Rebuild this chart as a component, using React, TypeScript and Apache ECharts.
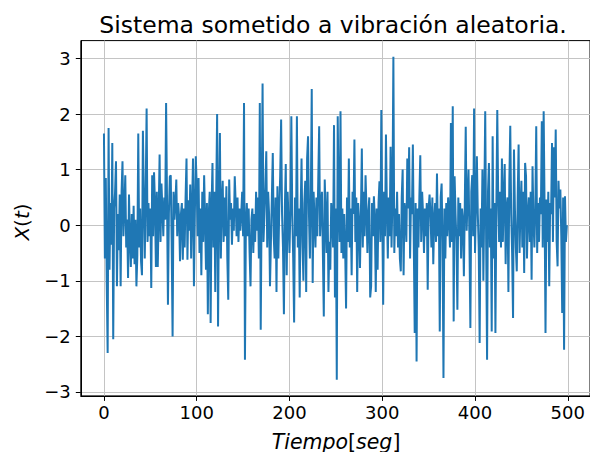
import React, { useEffect, useRef } from "react";
import * as echarts from "echarts";

// Time step of the signal (seconds), samples start at t = 0
const timeStep = 1;

// Response X(t), ten samples per row
const response: number[] = [
  1.65, -0.60, 0.85, -1.05, -2.30, 1.75, -0.80, 0.40, -0.35, 1.48,
  -2.05, 0.30, 0.60, 1.15, -1.10, 0.20, -0.45, 0.55, -1.10, 0.60,
  1.15, -0.20, 0.30, 0.90, -0.40, 0.10, -0.95, 0.55, -0.25, -0.75,
  0.20, -0.60, 0.35, -0.70, 0.10, -1.10, -0.55, 1.65, -0.40, 0.30,
  -0.65, -0.90, 1.70, 0.50, -0.60, 0.60, 2.10, -0.30, 0.40, -0.20,
  0.30, -1.13, 0.90, -0.20, 0.95, 0.40, -0.75, 0.60, -0.75, 0.20,
  1.27, -0.30, 0.75, 0.30, -0.20, 0.50, 0.10, 2.20, 0.45, -1.43,
  0.20, 0.87, 0.90, -0.30, -2.00, 0.60, 0.10, 0.40, 0.82, -0.20,
  0.40, 0.15, -0.65, 0.20, 0.40, -0.62, 0.30, -0.40, 0.50, 1.20,
  -0.62, 0.45, -0.10, 0.73, -0.60, 0.30, 1.20, -1.10, 0.20, 1.24,
  0.70, -0.20, 0.85, -0.50, 0.30, -0.90, 0.60, -0.30, 0.90, 0.10,
  -0.80, 0.40, -1.60, 0.20, 0.60, -1.76, 0.30, 1.12, -0.40, 0.60,
  -1.20, 0.50, 2.00, -1.82, 0.40, 1.66, -0.60, 0.40, 0.80, -0.30,
  0.50, -0.20, 0.70, -0.60, -1.34, 0.82, 0.10, 0.40, -0.35, 0.30,
  -0.10, 0.88, 0.40, -0.20, 0.50, -0.30, 0.30, -0.10, 0.20, 0.60,
  -0.20, 2.20, -2.42, 0.00, 0.40, -0.20, 0.30, -0.50, -1.10, 0.10,
  0.30, -0.50, 0.20, -0.30, 0.60, -0.10, 0.50, -0.60, 2.20, -1.88,
  0.40, 2.55, -0.30, 0.20, 0.70, 1.33, -0.40, 0.60, 0.20, -1.10,
  -0.30, 0.50, 1.30, -0.20, -0.60, 0.50, -1.20, 0.70, -0.60, 0.30,
  0.90, 1.90, 0.20, -0.40, -1.60, 0.30, 1.10, -0.90, 0.60, 0.10,
  -0.50, 0.30, 1.96, 0.20, -0.60, -1.75, 0.50, -0.20, 1.96, -0.40,
  0.30, -1.30, 0.20, 1.20, -0.30, -1.00, 0.40, 0.80, -1.20, 1.20,
  1.60, 0.20, -0.60, 0.50, 2.45, -1.04, 0.60, 0.10, -0.40, 0.50,
  -0.20, 0.80, 1.78, -0.20, 0.30, 0.60, -0.50, -1.64, 0.82, 0.20,
  -0.50, 0.60, -1.20, -0.30, -0.80, 0.40, 0.10, -0.40, 1.80, -1.30,
  0.30, -2.78, 1.96, 0.40, -0.30, 2.05, -0.50, 0.30, -0.60, 0.20,
  -0.40, -1.50, 0.50, -0.30, 1.20, -0.40, 0.30, -0.90, 0.60, 0.20,
  1.54, -0.30, 0.50, -1.20, 0.40, 0.10, -0.77, 0.20, 1.38, -0.40,
  0.60, -0.20, 0.90, 0.30, -0.50, 0.20, 0.50, -1.30, -1.10, 0.40,
  -0.20, 0.52, 0.10, -1.20, 0.30, -0.80, 0.40, 0.79, -0.30, 2.07,
  0.20, -1.43, 0.60, -0.20, 1.63, 0.30, -0.60, 0.50, -0.20, 1.41,
  -0.40, 0.50, 3.03, -0.50, 0.30, -0.20, 0.60, -0.40, 0.20, -0.60,
  -0.83, 0.50, 1.00, -0.90, 0.40, 0.20, -0.30, 1.20, 0.30, 1.40,
  -0.60, 0.50, 0.20, 1.45, -0.30, -1.94, 0.40, -2.45, 0.30, -0.40,
  0.50, 1.26, -0.30, 0.60, 0.20, -0.50, 0.30, -0.20, 0.40, -1.16,
  0.30, 0.55, 0.20, -0.40, 0.50, -0.70, 0.10, 0.40, -0.30, 0.93,
  -0.20, 0.30, -1.91, 0.50, 0.75, -0.30, -2.75, 0.30, -0.60, 0.40,
  -0.20, 0.50, 0.10, -0.40, 1.84, -0.30, 2.14, -1.73, 0.88, 0.20,
  -0.30, -1.52, 0.50, -0.20, 0.40, -0.60, 0.30, 0.10, -0.92, 0.40,
  1.77, -0.10, 0.50, 1.00, -0.30, -1.85, 0.60, 0.90, -0.20, 2.10,
  -0.50, 0.40, 1.24, 0.20, -0.40, -2.12, 0.30, -0.40, 1.00, -1.00,
  0.40, 2.05, -0.30, -2.42, 0.60, 1.12, -0.40, 0.30, -1.91, 1.60,
  -0.60, 0.40, -1.94, 0.30, 2.07, 0.50, -0.30, 0.60, -0.40, 1.20,
  -0.30, 0.50, 1.10, -0.70, 0.30, 0.50, -1.20, 0.80, 1.79, 0.20,
  -0.50, -1.67, 1.36, 0.30, -0.40, -0.83, 0.50, 1.45, -0.50, 0.30,
  0.80, -0.40, 0.60, -0.86, 1.12, 0.88, -0.60, 0.20, 0.50, -0.30,
  0.60, -0.98, 1.06, 0.10, -0.40, 0.30, 1.78, -0.50, 0.40, -0.30,
  0.50, 0.20, 1.87, -0.40, 2.05, 0.30, -1.94, 0.46, -0.30, 0.60,
  -1.10, 0.40, 0.20, 1.48, -0.30, 1.40, 0.50, 1.72, -0.30, -0.74,
  0.80, 0.30, 0.64, -0.20, -1.58, 0.50, -2.24, 0.52, -0.30, 0.00,
];

const xTicks = [0, 100, 200, 300, 400, 500];
const yTicks = [-3, -2, -1, 0, 1, 2, 3];

const titleText = "Sistema sometido a vibración aleatoria.";

export default function App() {
  const ref = useRef<HTMLDivElement>(null);

  useEffect(() => {
    document.body.style.margin = "0";
    const el = ref.current;
    if (!el) return;
    const chart = echarts.init(el, null, { renderer: "svg" });

    const data = response.map((v, i) => [i * timeStep, v]);
    const xs = data.map((d) => d[0]);
    const xMinD = Math.min(...xs);
    const xMaxD = Math.max(...xs);
    const yMinD = Math.min(...response);
    const yMaxD = Math.max(...response);
    const xm = 0.05 * (xMaxD - xMinD);
    const ym = 0.05 * (yMaxD - yMinD);

    const font = "'DejaVu Sans', sans-serif";
    const gridLeft = 80.8;
    const gridTop = 40.6;
    const gridWidth = 510.5;
    const gridHeight = 355.3;
    const cx = gridLeft + gridWidth / 2;

    chart.setOption({
      animation: false,
      backgroundColor: "#ffffff",
      grid: {
        left: gridLeft,
        top: gridTop,
        width: gridWidth,
        height: gridHeight,
        show: true,
        borderColor: "#000000",
        borderWidth: 1,
        backgroundColor: "transparent",
      },
      xAxis: {
        type: "value",
        min: xMinD - xm,
        max: xMaxD + xm,
        axisLine: { show: true, onZero: false, lineStyle: { color: "#000", width: 1 } },
        axisTick: {
          show: true,
          length: 5,
          inside: false,
          customValues: xTicks,
          lineStyle: { color: "#000", width: 1 },
        },
        axisLabel: {
          customValues: xTicks,
          color: "#000",
          fontSize: 18,
          fontFamily: font,
          margin: 8,
        },
        splitLine: { show: true, lineStyle: { color: "#c4c4c4", width: 1 } },
      },
      yAxis: {
        type: "value",
        min: yMinD - ym,
        max: yMaxD + ym,
        axisLine: { show: true, onZero: false, lineStyle: { color: "#000", width: 1 } },
        axisTick: {
          show: true,
          length: 5,
          inside: false,
          customValues: yTicks,
          lineStyle: { color: "#000", width: 1 },
        },
        axisLabel: {
          customValues: yTicks,
          color: "#000",
          fontSize: 18,
          fontFamily: font,
          margin: 10,
          formatter: (v: number) => (v < 0 ? "\u2212" + Math.abs(v) : String(v)),
        },
        splitLine: { show: true, lineStyle: { color: "#c4c4c4", width: 1 } },
      },
      series: [
        {
          type: "line",
          data,
          showSymbol: false,
          symbol: "none",
          lineStyle: { color: "#1f77b4", width: 2 },
          silent: true,
          z: 3,
        },
      ],
      graphic: [
        {
          type: "text",
          x: cx - 3,
          y: 13,
          style: {
            text: titleText,
            fontSize: 23.5,
            fontFamily: font,
            fill: "#000",
            align: "center",
            verticalAlign: "top",
          },
        },
        {
          type: "text",
          x: cx,
          y: 431,
          style: {
            text: "{i|Tiempo}{n|[}{i|seg}{n|]}",
            fontSize: 20.5,
            fontFamily: font,
            fill: "#000",
            align: "center",
            verticalAlign: "top",
            rich: {
              i: { fontSize: 20.5, fontFamily: font, fontStyle: "italic", fill: "#000" },
              n: { fontSize: 20.5, fontFamily: font, fill: "#000" },
            },
          },
        },
        {
          type: "text",
          x: 22,
          y: 222,
          rotation: Math.PI / 2,
          style: {
            text: "{i|X}{n|(}{i|t}{n|)}",
            fontSize: 20,
            fontFamily: font,
            fill: "#000",
            align: "center",
            verticalAlign: "middle",
            rich: {
              i: { fontSize: 20, fontFamily: font, fontStyle: "italic", fill: "#000" },
              n: { fontSize: 20, fontFamily: font, fill: "#000" },
            },
          },
        },
      ],
    });

    return () => {
      chart.dispose();
    };
  }, []);

  return (
    <div
      ref={ref}
      style={{ position: "fixed", left: 0, top: 0, width: 590, height: 452 }}
    />
  );
}
